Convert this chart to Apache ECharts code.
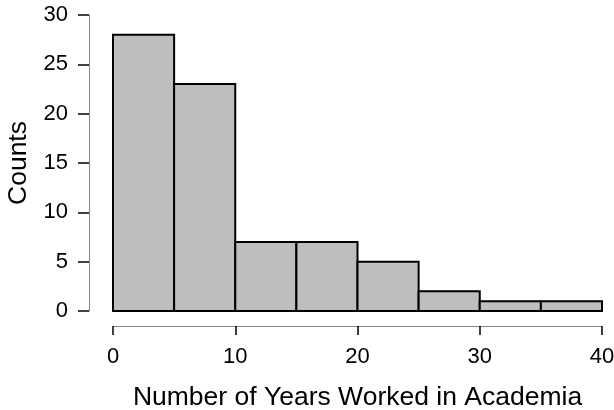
<!DOCTYPE html>
<html lang="en">
<head>
  <meta charset="UTF-8">
  <title>Histogram</title>
  <script src="https://cdn.jsdelivr.net/npm/echarts@6/dist/echarts.min.js"></script>
</head>
<body style="margin:0">
  <div id="chart" style="width: 614px;height: 410px;"></div>
  <script>
    // bin edges and counts
    const binStarts = [0, 5, 10, 15, 20, 25, 30, 35]
    const binWidth = 5
    const counts = [28, 23, 7, 7, 5, 2, 1, 1]
    const xTicks = [0, 10, 20, 30, 40]
    const yTicks = [0, 5, 10, 15, 20, 25, 30]

    const myChart = echarts.init(document.getElementById('chart'))
    const font = 'Liberation Sans, Arial, sans-serif'

    const option = {
      backgroundColor: '#fff',
      animation: false,
      grid: { left: 113, right: 12, top: 15, bottom: 99, outerBoundsMode: 'none', containLabel: false },
      xAxis: {
        type: 'value',
        min: xTicks[0],
        max: xTicks[xTicks.length - 1],
        interval: 10,
        offset: 15,
        name: 'Number of Years Worked in Academia',
        nameLocation: 'middle',
        nameGap: 58,
        nameTextStyle: { fontFamily: font, fontSize: 26.5, color: '#000' },
        splitLine: { show: false },
        axisLine: { onZero: false, lineStyle: { color: '#888', width: 1 } },
        axisTick: { length: 9, lineStyle: { color: '#000', width: 1.5 } },
        axisLabel: { fontFamily: font, fontSize: 22, color: '#000', margin: 20 }
      },
      yAxis: {
        type: 'value',
        min: yTicks[0],
        max: yTicks[yTicks.length - 1],
        interval: 5,
        offset: 24,
        name: 'Counts',
        nameLocation: 'middle',
        nameGap: 57,
        nameTextStyle: { fontFamily: font, fontSize: 26.5, color: '#000' },
        splitLine: { show: false },
        axisLine: { show: true, onZero: false, lineStyle: { color: '#888', width: 1 } },
        axisTick: { show: true, length: 11, lineStyle: { color: '#000', width: 1.5 } },
        axisLabel: { fontFamily: font, fontSize: 22, color: '#000', margin: 21 }
      },
      series: [{
        type: 'custom',
        data: binStarts.map((s, i) => [s, s + binWidth, counts[i]]),
        renderItem(params, api) {
          const p0 = api.coord([api.value(0), 0])
          const p1 = api.coord([api.value(1), api.value(2)])
          return {
            type: 'rect',
            shape: { x: p0[0], y: p1[1], width: p1[0] - p0[0], height: p0[1] - p1[1] },
            style: { fill: '#bebebe', stroke: '#000', lineWidth: 2 }
          }
        }
      }]
    }

    myChart.setOption(option)
  </script>
</body>
</html>
